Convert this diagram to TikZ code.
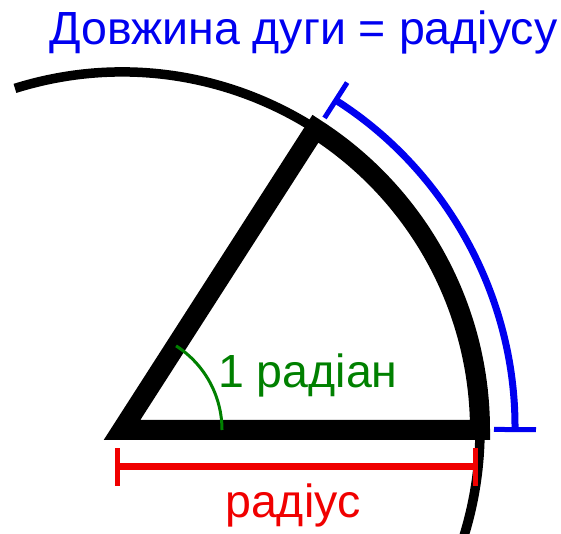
\documentclass[tikz,border=0pt]{standalone}
\usepackage{fontspec}
\setmainfont{Liberation Sans}
\usetikzlibrary{arrows.meta,calc}
\definecolor{myblue}{RGB}{0,0,240}
\definecolor{mygreen}{RGB}{0,128,0}
\definecolor{myred}{RGB}{240,0,0}
\tikzset{
  thincircle/.style={line width=9.5pt, black},
  sectorline/.style={line width=20pt, black, miter limit=10},
  arclen/.style={line width=7pt, myblue, {Bar[width=42pt,line width=5pt]}-{Bar[width=42pt,line width=5pt]}},
  radline/.style={line width=7pt, myred, {Bar[width=38pt,line width=5pt]}-{Bar[width=38pt,line width=5pt]}},
  anglearc/.style={line width=3pt, mygreen},
  lbl/.style={font=\fontsize{46.5}{50}\selectfont, inner sep=0pt, anchor=base west}
}
\begin{document}
\begin{tikzpicture}[x=1pt,y=1pt]
\useasboundingbox (0,0) rectangle (561,534);
\clip (0,0) rectangle (561,534);
\coordinate (O) at (122,104);
\coordinate (B) at (480,104);
\coordinate (A) at ($(O)+(57.2958:358)$);
% thin circle
\draw[thincircle] (O) ++(107.4:358) arc[start angle=107.4, end angle=-25, radius=358];
% sector
\draw[sectorline] (O) -- (B) arc[start angle=0, end angle=57.2958, radius=358] -- cycle;
% green angle arc
\draw[anglearc] (O) ++(0:100) arc[start angle=0, end angle=57.2958, radius=100];
% blue arc length
\draw[arclen] (O) ++(-0.3:393) coordinate (bs) arc[start angle=-0.3, end angle=57.4, radius=393] coordinate (be);
% red radius
\coordinate (rl) at (115,67);
\coordinate (rr) at (478,67);
\draw[radline] (rl) -- (rr);
% labels
\node[lbl, myblue] (title) at (49,489) {Довжина дуги = радіусу};
\node[lbl, mygreen] (ang) at (218,146) {1 радіан};
\node[lbl, myred] (rad) at (225,16) {радіус};
\end{tikzpicture}
\end{document}
